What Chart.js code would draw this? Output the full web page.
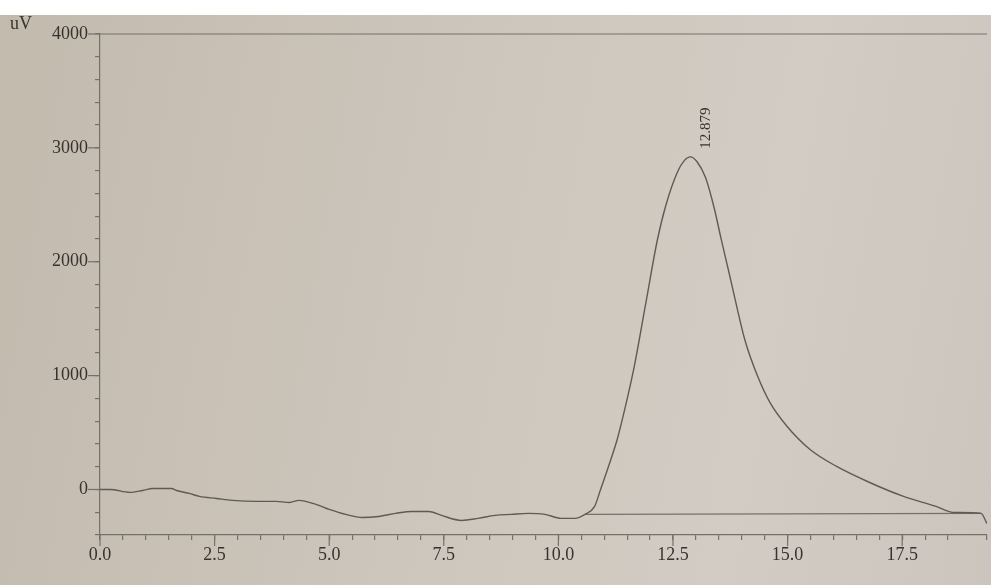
<!DOCTYPE html>
<html lang="en">
<head>
  <meta charset="UTF-8" />
  <title>Chromatogram</title>
  <script src="https://cdn.jsdelivr.net/npm/chart.js"></script>
  <style>
    html, body {
      margin: 0;
      padding: 0;
      background: #ffffff;
      overflow: hidden;
    }
    .paper {
      position: absolute;
      left: 0;
      top: 15px;
      width: 991px;
      height: 570px;
      background: linear-gradient(100deg, #c3baae 0%, #cdc6bc 45%, #d2ccc4 75%, #cbc5bd 100%);
    }
    .wrap {
      position: absolute;
      left: 0;
      top: 0;
      width: 991px;
      height: 585px;
    }
  </style>
</head>
<body>
  <div class="paper"></div>
  <div class="wrap"><canvas id="chrom" width="991" height="585"></canvas></div>

  <script>
    // retention time (min) and signal (uV)
    const times = [
      0.00, 0.22, 0.65, 0.93, 1.15, 1.56, 1.67, 1.95, 2.17, 2.54, 2.89, 3.41, 3.84, 4.13, 4.34, 4.71,
      5.00, 5.36, 5.72, 6.08, 6.45, 6.80, 7.17, 7.45, 7.89, 8.25, 8.62, 8.97, 9.34, 9.71, 10.06, 10.36,
      10.58, 10.79, 10.92, 11.10, 11.29, 11.48, 11.66, 11.90, 12.16, 12.34, 12.60, 12.75, 12.88, 13.02,
      13.21, 13.40, 13.55, 13.73, 13.90, 14.07, 14.34, 14.62, 14.99, 15.49, 16.07, 16.79, 17.53, 18.24,
      18.61, 19.22, 19.35
    ];
    const signal = [
      0, 0, -26, -9, 9, 9, -9, -35, -61, -79, -96, -105, -105, -114, -96, -131,
      -175, -219, -246, -237, -210, -193, -193, -228, -272, -254, -228, -219, -210, -219, -254, -254,
      -219, -149, 0, 210, 450, 760, 1090, 1620, 2193, 2490, 2790, 2890, 2921, 2880,
      2740, 2470, 2200, 1890, 1590, 1310, 1000, 760, 553, 351, 202, 61, -61, -149,
      -202, -210, -300
    ];

    // drawn baseline under the peak
    const baseTimes = [10.58, 19.22];
    const baseSignal = [-219, -210];

    const peakTime = 12.879;
    const peakSignal = 2921;
    const peakLabel = '12.879';

    const yMajor = [0, 1000, 2000, 3000, 4000];
    const xMajor = [0, 2.5, 5, 7.5, 10, 12.5, 15, 17.5];

    const ink = '#5f5a54';
    const axisInk = '#75706a';
    const textInk = '#37332f';
    const serif = "'Liberation Serif', 'DejaVu Serif', serif";

    const trace = times.map((t, i) => ({ x: t, y: signal[i] }));
    const baseline = baseTimes.map((t, i) => ({ x: t, y: baseSignal[i] }));

    const extras = {
      id: 'extras',
      afterDraw(chart) {
        const { ctx, chartArea, scales } = chart;
        const xs = scales.x, ys = scales.y;
        ctx.save();
        ctx.strokeStyle = axisInk;
        ctx.lineWidth = 1.2;
        // top frame
        ctx.beginPath();
        ctx.moveTo(chartArea.left, chartArea.top);
        ctx.lineTo(chartArea.right, chartArea.top);
        ctx.stroke();
        // longer major ticks
        yMajor.forEach(v => {
          const py = ys.getPixelForValue(v);
          ctx.beginPath();
          ctx.moveTo(chartArea.left - 12, py);
          ctx.lineTo(chartArea.left, py);
          ctx.stroke();
        });
        xMajor.forEach(v => {
          const px = xs.getPixelForValue(v);
          ctx.beginPath();
          ctx.moveTo(px, chartArea.bottom);
          ctx.lineTo(px, chartArea.bottom + 11);
          ctx.stroke();
        });
        // unit
        ctx.fillStyle = textInk;
        ctx.font = '18px ' + serif;
        ctx.textAlign = 'left';
        ctx.textBaseline = 'alphabetic';
        ctx.fillText('uV', 10, 29);
        // peak label, rotated
        const px = xs.getPixelForValue(peakTime);
        const py = ys.getPixelForValue(peakSignal);
        ctx.translate(px + 16, py - 8);
        ctx.rotate(-Math.PI / 2);
        ctx.font = '15px ' + serif;
        ctx.textAlign = 'left';
        ctx.textBaseline = 'middle';
        ctx.fillText(peakLabel, 0, 0);
        ctx.restore();
      }
    };

    new Chart(document.getElementById('chrom'), {
      type: 'scatter',
      data: {
        datasets: [
          {
            data: trace,
            showLine: true,
            borderColor: ink,
            borderWidth: 1.4,
            pointRadius: 0,
            cubicInterpolationMode: 'monotone',
            fill: false
          },
          {
            data: baseline,
            showLine: true,
            borderColor: axisInk,
            borderWidth: 1.2,
            pointRadius: 0,
            fill: false
          }
        ]
      },
      options: {
        responsive: false,
        animation: false,
        layout: { padding: { top: 34, right: 0, left: 0, bottom: 0 } },
        plugins: {
          legend: { display: false },
          tooltip: { enabled: false }
        },
        scales: {
          x: {
            type: 'linear',
            min: 0,
            max: 19.35,
            afterFit(scale) { scale.height = 50; },
            border: { display: true, color: axisInk, width: 1.2 },
            grid: { drawOnChartArea: false, drawTicks: true, tickLength: 5, color: axisInk, lineWidth: 1.2 },
            ticks: {
              stepSize: 0.5,
              autoSkip: false,
              maxRotation: 0,
              padding: 4,
              color: textInk,
              font: { family: serif, size: 18 },
              callback: v => (Math.abs(v / 2.5 - Math.round(v / 2.5)) < 1e-6 ? v.toFixed(1) : '')
            }
          },
          y: {
            min: -400,
            max: 4000,
            afterFit(scale) { scale.width = 100; },
            border: { display: true, color: axisInk, width: 1.2 },
            grid: { drawOnChartArea: false, drawTicks: true, tickLength: 5, color: axisInk, lineWidth: 1.2 },
            ticks: {
              stepSize: 200,
              autoSkip: false,
              padding: 7,
              color: textInk,
              font: { family: serif, size: 18 },
              callback: v => (v >= 0 && v % 1000 === 0 ? String(v) : '')
            }
          }
        }
      },
      plugins: [extras]
    });
  </script>
</body>
</html>
